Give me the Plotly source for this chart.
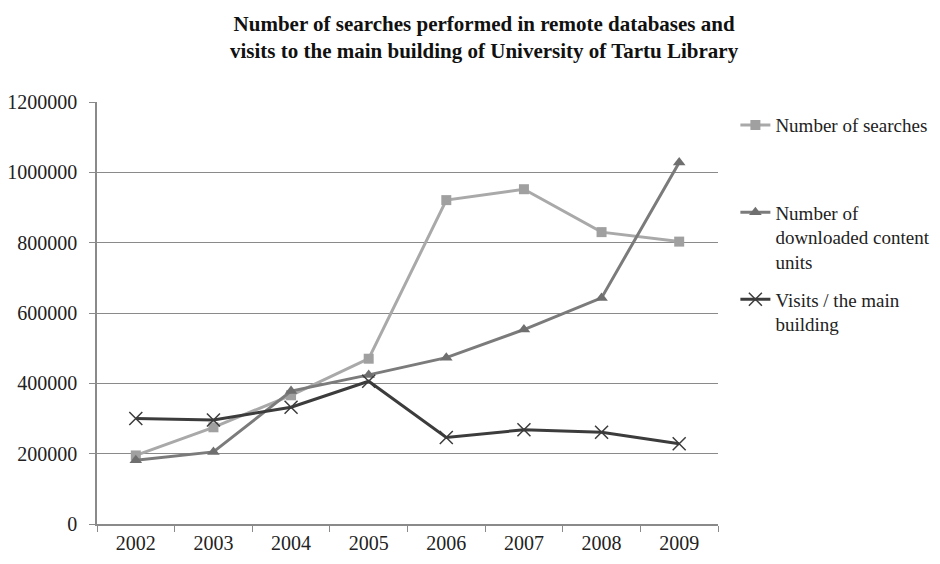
import plotly.graph_objects as go

years = ["2002", "2003", "2004", "2005", "2006", "2007", "2008", "2009"]
searches = [195000, 275000, 366000, 470000, 921000, 952000, 830000, 803000]
downloads = [181000, 205000, 378000, 424000, 473000, 553000, 643000, 1028000]
visits = [300000, 296000, 332000, 406000, 246000, 268000, 261000, 228000]

names = [
    "Number of searches<br> <br> ",
    "Number of<br>downloaded content<br>units",
    "Visits / the main<br>building",
]
y_ticks = [0, 200000, 400000, 600000, 800000, 1000000, 1200000]
title_text = ("<b>Number of searches performed in remote databases and<br>"
              "visits to the main building of University of Tartu Library</b>")

fig = go.Figure()
fig.add_trace(go.Scatter(
    x=years, y=searches, name=names[0], mode="lines+markers", legendgroup="a",
    line=dict(color="#a9a9a9", width=3),
    marker=dict(symbol="square", size=10, color="#a0a0a0"),
))
fig.add_trace(go.Scatter(
    x=years, y=downloads, name=names[1], mode="lines+markers", legendgroup="b",
    line=dict(color="#7b7b7b", width=3),
    marker=dict(symbol="triangle-up", size=11, color="#6f6f6f"),
))
fig.add_trace(go.Scatter(
    x=years, y=visits, name=names[2], mode="lines+markers", legendgroup="c",
    line=dict(color="#3c3c3c", width=3),
    marker=dict(symbol="x-thin", size=13, line=dict(color="#3c3c3c", width=1.5)),
))

fig.update_layout(
    width=940, height=564,
    margin=dict(l=97, r=222, t=102, b=40, autoexpand=False),
    paper_bgcolor="white", plot_bgcolor="white",
    font=dict(family="Liberation Serif, Times New Roman, serif", size=20, color="#222"),
    title=dict(text=title_text, x=0.515, xref="container", xanchor="center",
               y=0.945, yanchor="top",
               font=dict(family="Liberation Serif, serif", size=21, color="#111")),
    legend=dict(x=1.028, xanchor="left", y=0.99, yanchor="top",
                valign="top", tracegroupgap=10,
                font=dict(family="Liberation Serif, serif", size=19, color="#222"),
                bgcolor="rgba(0,0,0,0)"),
    showlegend=True,
)

fig.update_xaxes(
    type="category", range=[-0.5, 7.5],
    showline=True, linecolor="#8a8a8a", linewidth=1.5,
    ticks="outside", tickson="boundaries", ticklen=6, tickcolor="#8a8a8a",
    showgrid=False, tickfont=dict(size=20, color="#222"),
)
fig.update_yaxes(
    range=[0, 1200000], tickvals=y_ticks, tickformat="d",
    showline=True, linecolor="#8a8a8a", linewidth=1.5,
    ticks="outside", ticklen=6, tickcolor="#8a8a8a",
    showgrid=True, gridcolor="#8a8a8a", gridwidth=1,
    zeroline=False, tickfont=dict(size=20, color="#222"),
    ticklabelstandoff=8,
)

fig.write_html("out.html")
